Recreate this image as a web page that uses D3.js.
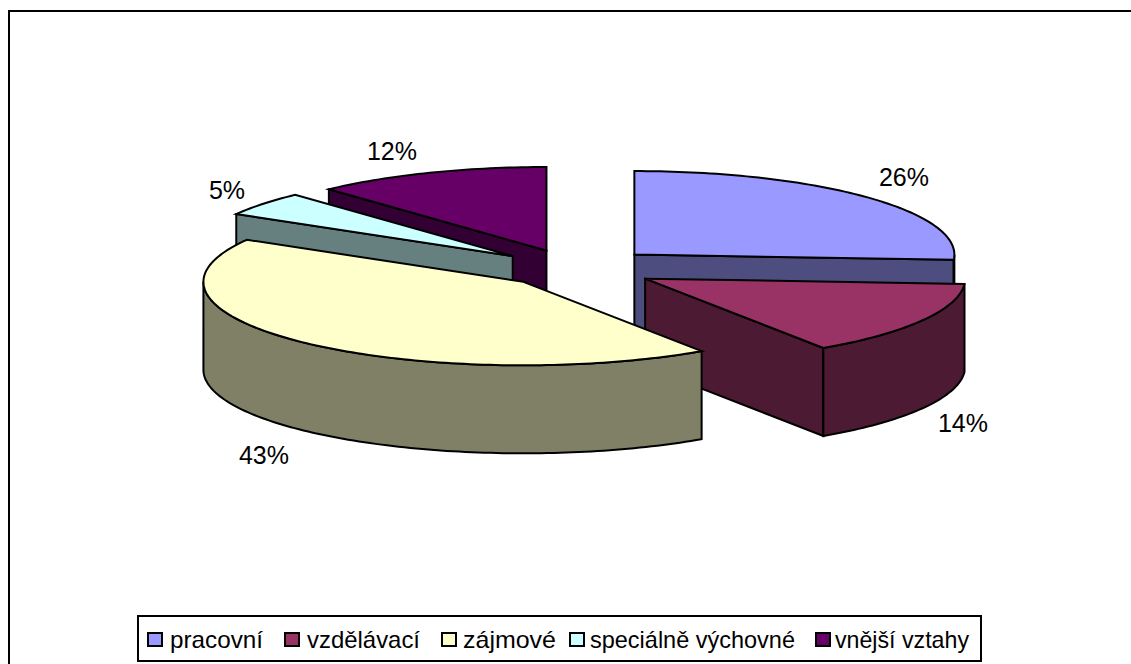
<!DOCTYPE html>
<html><head><meta charset="utf-8">
<script src="https://cdn.jsdelivr.net/npm/d3@7/dist/d3.min.js"></script>
<style>html,body{margin:0;padding:0;background:#fff}svg{display:block}
text{font-family:"Liberation Sans",Arial,sans-serif;fill:#000}</style>
</head><body><script>
const categories = ["pracovní","vzdělávací","zájmové","speciálně výchovné","vnější vztahy"];
const values = [26, 14.6, 42.8, 4.7, 11.9];
const valueLabels = ["26%","14%","43%","5%","12%"];
const topColors = ["#9999ff","#993366","#ffffcc","#ccffff","#660066"];
const sideColors = ["#4d4d80","#4d1a33","#808066","#668080","#330033"];

// layout
const drawOrder = [4,3,0,1,2];
const explodeX = [78,78,79,83,85];
const explodeY = [78,78,70,76,74];
const labelAnchors = [[904,177],[963,423],[264,455],[227,190],[392,151]];
const legendSwatchX = [147,284,441,569,815];
const legendTextX = [170,307,463,590,835];
const legendTextW = [93,113,93,205,134];

const W=1131,H=664, cx=577.5, cy=268.5, rx=320, ry=83.5, depth=88;
const svg=d3.select("body").append("svg").attr("width",W).attr("height",H);
svg.append("path").attr("d","M9,664V11H1131").attr("fill","none")
  .attr("stroke","#000").attr("stroke-width",2).attr("shape-rendering","crispEdges");

const arcs=d3.pie().sort(null).value(d=>d)(values);
const x=d3.scaleLinear().domain([-1,1]).range([cx-rx,cx+rx]);
const y=d3.scaleLinear().domain([-1,1]).range([cy-ry,cy+ry]);
const line=d3.line();
function pt(o,a,dz){return [x(o.x+Math.sin(a)),y(o.y-Math.cos(a))+dz];}
function samples(a0,a1){const n=Math.max(2,Math.ceil((a1-a0)/0.02));return d3.range(n+1).map(i=>a0+(a1-a0)*i/n);}
const g=svg.append("g");
const face=(pts,fill)=>g.append("path").attr("d",line(pts)+"Z").attr("fill",fill).attr("stroke","#000").attr("stroke-width",2).attr("stroke-linejoin","miter");
drawOrder.forEach(i=>{
  const a=arcs[i], mid=(a.startAngle+a.endAngle)/2;
  const o={x:Math.sin(mid)*explodeX[i]/rx,y:-Math.cos(mid)*explodeY[i]/rx};
  const apex=[x(o.x),y(o.y)], apexD=[apex[0],apex[1]+depth];
  const s=pt(o,a.startAngle,0), e=pt(o,a.endAngle,0);
  const sD=[s[0],s[1]+depth], eD=[e[0],e[1]+depth];
  // only the cut faces turned towards the viewer
  if(a.startAngle>Math.PI) face([apex,s,sD,apexD],sideColors[i]);
  if(a.endAngle<Math.PI) face([apex,e,eD,apexD],sideColors[i]);
  // outer wall: only the portion facing the viewer
  const lo=Math.max(a.startAngle,Math.PI/2), hi=Math.min(a.endAngle,Math.PI*1.5);
  if(hi>lo){
    const as=samples(lo,hi);
    face(as.map(t=>pt(o,t,0)).concat(as.slice().reverse().map(t=>pt(o,t,depth))),sideColors[i]);
  }
  // top
  face([apex].concat(samples(a.startAngle,a.endAngle).map(t=>pt(o,t,0))),topColors[i]);
});

svg.selectAll("text.lab").data(valueLabels).join("text").attr("class","lab")
  .attr("x",(d,i)=>labelAnchors[i][0]).attr("y",(d,i)=>labelAnchors[i][1]+9)
  .attr("text-anchor","middle").attr("font-size",25).text(d=>d);

// legend
const lg=svg.append("g");
lg.append("rect").attr("x",138).attr("y",616).attr("width",843).attr("height",45)
  .attr("fill","#fff").attr("stroke","#000").attr("stroke-width",2).attr("shape-rendering","crispEdges");
categories.forEach((c,i)=>{
  lg.append("rect").attr("x",legendSwatchX[i]+.5).attr("y",632.5).attr("width",14).attr("height",13)
    .attr("fill",topColors[i]).attr("stroke","#000").attr("stroke-width",2).attr("shape-rendering","crispEdges");
  lg.append("text").attr("x",legendTextX[i]).attr("y",648).attr("font-size",24)
    .attr("textLength",legendTextW[i]).attr("lengthAdjust","spacingAndGlyphs").text(c);
});
</script></body></html>
